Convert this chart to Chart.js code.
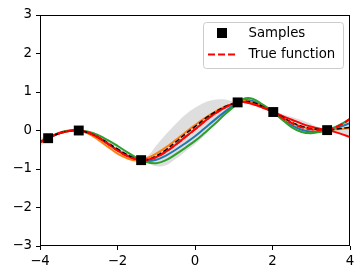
<!DOCTYPE html>
<html>
<head>
<meta charset="utf-8">
<script src="https://cdn.jsdelivr.net/npm/chart.js@4"></script>
<style>
  body { margin: 0; background: #fff; }
  canvas { display: block; }
</style>
</head>
<body>
<canvas id="chart" width="364" height="280"></canvas>
<script>
// values, on a grid of x every 0.25
const xs = [-4, -3.75, -3.5, -3.25, -3, -2.75, -2.5, -2.25, -2, -1.75, -1.5, -1.25, -1, -0.75, -0.5, -0.25,
  0, 0.25, 0.5, 0.75, 1, 1.25, 1.5, 1.75, 2, 2.25, 2.5, 2.75, 3, 3.25, 3.5, 3.75, 4];

const meanY = [-0.30, -0.18, -0.07, -0.01, 0.00, -0.06, -0.17, -0.32, -0.48, -0.63, -0.74, -0.76, -0.66, -0.50, -0.30, -0.09,
  0.10, 0.30, 0.47, 0.61, 0.70, 0.76, 0.73, 0.62, 0.49, 0.35, 0.21, 0.11, 0.05, 0.02, 0.02, 0.05, 0.08];
const bandUpper = [-0.18, -0.16, -0.04, 0.01, 0.01, -0.02, -0.10, -0.23, -0.39, -0.56, -0.71, -0.68, -0.39, -0.10, 0.17, 0.41,
  0.59, 0.73, 0.80, 0.81, 0.76, 0.80, 0.80, 0.68, 0.50, 0.43, 0.35, 0.27, 0.17, 0.07, 0.06, 0.19, 0.34];
const bandLower = [-0.42, -0.20, -0.10, -0.03, -0.01, -0.10, -0.24, -0.41, -0.57, -0.70, -0.77, -0.84, -0.93, -0.90, -0.74, -0.55,
  -0.36, -0.13, 0.14, 0.38, 0.64, 0.72, 0.66, 0.56, 0.48, 0.27, 0.07, -0.05, -0.07, -0.03, -0.02, -0.09, -0.18];

const trueY = [-0.31, -0.18, -0.07, -0.01, 0.00, -0.06, -0.18, -0.34, -0.52, -0.66, -0.75, -0.76, -0.69, -0.55, -0.37, -0.17,
  0.03, 0.24, 0.43, 0.58, 0.70, 0.74, 0.69, 0.60, 0.49, 0.33, 0.19, 0.08, 0.03, 0.01, 0.04, 0.14, 0.30];

const blueY = [-0.30, -0.18, -0.07, -0.01, 0.00, -0.07, -0.19, -0.35, -0.51, -0.65, -0.75, -0.79, -0.76, -0.65, -0.50, -0.33,
  -0.15, 0.06, 0.27, 0.47, 0.66, 0.79, 0.76, 0.63, 0.49, 0.30, 0.13, 0.02, -0.03, -0.01, 0.03, 0.10, 0.19];
const orangeY = [-0.31, -0.18, -0.07, -0.01, 0.00, -0.08, -0.24, -0.42, -0.60, -0.72, -0.78, -0.72, -0.60, -0.44, -0.25, -0.05,
  0.14, 0.32, 0.48, 0.61, 0.70, 0.77, 0.72, 0.62, 0.49, 0.34, 0.20, 0.10, 0.04, 0.01, 0.02, 0.04, 0.06];
const greenY = [-0.29, -0.17, -0.06, 0.00, 0.00, -0.03, -0.12, -0.25, -0.40, -0.56, -0.71, -0.82, -0.85, -0.77, -0.62, -0.45,
  -0.27, -0.06, 0.16, 0.40, 0.62, 0.82, 0.82, 0.67, 0.50, 0.28, 0.08, -0.04, -0.07, -0.03, 0.04, 0.15, 0.30];
const redY = [-0.31, -0.18, -0.07, -0.01, 0.00, -0.06, -0.18, -0.34, -0.52, -0.66, -0.75, -0.76, -0.69, -0.55, -0.37, -0.17,
  0.03, 0.24, 0.43, 0.58, 0.70, 0.74, 0.68, 0.59, 0.49, 0.38, 0.28, 0.18, 0.10, 0.04, -0.01, -0.08, -0.17];

// observed points
const sampleX = [-3.79, -3.0, -1.39, 1.1, 2.02, 3.41];
const sampleY = [-0.20, 0.00, -0.77, 0.73, 0.48, 0.01];

const xTicks = [-4, -2, 0, 2, 4];
const yTicks = [-3, -2, -1, 0, 1, 2, 3];

const FONT = "'DejaVu Sans', sans-serif";
const FSIZE = 13.3;

function pts(ys) {
  return xs.map((x, i) => ({ x: x, y: ys[i] }));
}

function curve(ys, color) {
  return {
    data: pts(ys),
    borderColor: color,
    borderWidth: 2,
    pointRadius: 0,
    tension: 0.4,
    fill: false
  };
}

const fmt = (v) => String(v).replace('-', '\u2212');

// matplotlib style frame + legend in the top right corner
const framePlugin = {
  id: 'frame',
  afterDraw(chart) {
    const ctx = chart.ctx;
    const a = chart.chartArea;
    ctx.save();
    ctx.strokeStyle = '#000';
    ctx.lineWidth = 1;
    ctx.strokeRect(a.left + 0.5, a.top + 0.5, a.right - a.left - 1, a.bottom - a.top - 1);

    // legend
    const bx = 203.5, by = 22.5, bw = 140, bh = 46, r = 3;
    ctx.beginPath();
    ctx.moveTo(bx + r, by);
    ctx.arcTo(bx + bw, by, bx + bw, by + bh, r);
    ctx.arcTo(bx + bw, by + bh, bx, by + bh, r);
    ctx.arcTo(bx, by + bh, bx, by, r);
    ctx.arcTo(bx, by, bx + bw, by, r);
    ctx.closePath();
    ctx.fillStyle = 'rgba(255,255,255,0.8)';
    ctx.fill();
    ctx.strokeStyle = '#cccccc';
    ctx.stroke();

    ctx.fillStyle = '#000';
    ctx.fillRect(217, 28, 10, 10);

    ctx.beginPath();
    ctx.setLineDash([7, 3]);
    ctx.strokeStyle = 'red';
    ctx.lineWidth = 2;
    ctx.moveTo(208, 54.5);
    ctx.lineTo(237, 54.5);
    ctx.stroke();
    ctx.setLineDash([]);

    ctx.fillStyle = '#000';
    ctx.font = FSIZE + 'px ' + FONT;
    ctx.textBaseline = 'middle';
    ctx.textAlign = 'left';
    ctx.fillText('Samples', 248.5, 34);
    ctx.fillText('True function', 248.5, 55);
    ctx.restore();
  }
};

new Chart(document.getElementById('chart'), {
  type: 'line',
  data: {
    datasets: [
      {
        data: sampleX.map((x, i) => ({ x: x, y: sampleY[i] })),
        showLine: false,
        pointStyle: 'rect',
        pointRadius: 7,
        pointBackgroundColor: '#000',
        pointBorderWidth: 0
      },
      Object.assign(curve(trueY, 'red'), { borderDash: [7, 3] }),
      Object.assign(curve(meanY, '#000'), { borderDash: [5, 2.5], borderWidth: 1.5 }),
      curve(redY, 'red'),
      curve(greenY, '#2ca02c'),
      curve(orangeY, '#ff7f0e'),
      curve(blueY, '#1f77b4'),
      {
        data: pts(bandUpper),
        borderWidth: 0,
        pointRadius: 0,
        tension: 0.4,
        fill: '+1',
        backgroundColor: 'rgba(0,0,0,0.13)'
      },
      {
        data: pts(bandLower),
        borderWidth: 0,
        pointRadius: 0,
        tension: 0.4,
        fill: false
      }
    ]
  },
  options: {
    responsive: false,
    animation: false,
    layout: { padding: { top: 15, right: 14, left: 0, bottom: 0 } },
    plugins: {
      legend: { display: false },
      tooltip: { enabled: false }
    },
    scales: {
      x: {
        type: 'linear',
        min: -4,
        max: 4,
        afterFit(s) { s.height = 34; },
        afterBuildTicks(s) { s.ticks = xTicks.map(v => ({ value: v })); },
        grid: { drawOnChartArea: false, drawTicks: true, tickLength: 4, color: '#000' },
        border: { display: false },
        ticks: {
          color: '#000',
          padding: 4,
          maxRotation: 0,
          font: { family: FONT, size: FSIZE },
          callback: fmt
        }
      },
      y: {
        min: -3,
        max: 3,
        afterFit(s) { s.width = 40; },
        afterBuildTicks(s) { s.ticks = yTicks.map(v => ({ value: v })); },
        grid: { drawOnChartArea: false, drawTicks: true, tickLength: 4, color: '#000' },
        border: { display: false },
        ticks: {
          color: '#000',
          padding: 4,
          font: { family: FONT, size: FSIZE },
          callback: fmt
        }
      }
    }
  },
  plugins: [framePlugin]
});
</script>
</body>
</html>
